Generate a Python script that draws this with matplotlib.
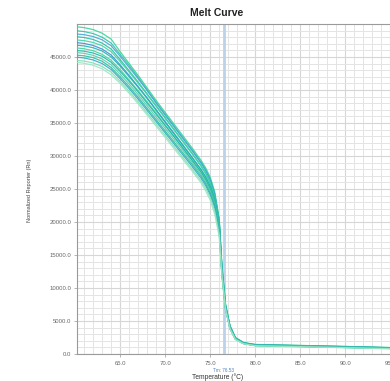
import matplotlib
matplotlib.use("Agg")
import matplotlib.pyplot as plt
from matplotlib.ticker import MultipleLocator, FormatStrFormatter

plt.rcParams['font.family'] = ['Liberation Sans', 'DejaVu Sans']

# temperature points shared by every well (deg C)
temps = [60, 61, 62, 63, 64, 65, 66, 67, 68, 69, 70, 71, 72, 73, 74, 74.5,
         75, 75.5, 76, 76.3, 76.7, 77.2, 77.8, 78.7, 80, 85, 90, 96]

# normalized reporter per well
well_01 = [49600, 49450, 49150, 48600, 47700, 45800, 44000, 42200, 40300, 38400, 36600, 34800, 33000, 31200,
           29300, 28200, 26800, 24600, 20500, 13500, 7600, 4300, 2500, 1750, 1450, 1300, 1150, 950]
well_02 = [49000, 48850, 48550, 48000, 47100, 45400, 43700, 41900, 40000, 38100, 36300, 34500, 32700, 30900,
           29000, 27900, 26500, 24300, 20300, 13300, 7500, 4250, 2450, 1720, 1420, 1280, 1130, 930]
well_03 = [48500, 48380, 48100, 47600, 46700, 45100, 43400, 41700, 39900, 38000, 36200, 34400, 32600, 30800,
           28900, 27800, 26400, 24200, 20200, 13200, 7400, 4200, 2450, 1700, 1400, 1260, 1110, 910]
well_04 = [48100, 47950, 47650, 47100, 46200, 44600, 42900, 41200, 39400, 37600, 35800, 34000, 32200, 30400,
           28500, 27400, 26000, 23900, 20000, 13000, 7300, 4150, 2400, 1680, 1380, 1240, 1090, 900]
well_05 = [47600, 47480, 47200, 46700, 45800, 44300, 42700, 41000, 39300, 37500, 35700, 33900, 32100, 30300,
           28400, 27300, 25900, 23800, 19900, 12900, 7250, 4100, 2400, 1670, 1370, 1230, 1080, 890]
well_06 = [47200, 47050, 46750, 46200, 45300, 43800, 42200, 40500, 38800, 37000, 35200, 33400, 31600, 29800,
           27900, 26800, 25400, 23400, 19600, 12700, 7150, 4050, 2350, 1650, 1350, 1210, 1060, 870]
well_07 = [46800, 46680, 46400, 45900, 45000, 43600, 42000, 40400, 38700, 36900, 35100, 33300, 31500, 29700,
           27900, 26800, 25400, 23400, 19500, 12600, 7100, 4000, 2350, 1640, 1340, 1200, 1050, 860]
well_08 = [46400, 46250, 45950, 45400, 44500, 43100, 41500, 39900, 38200, 36500, 34700, 32900, 31200, 29400,
           27600, 26500, 25100, 23100, 19300, 12500, 7050, 3950, 2300, 1620, 1320, 1180, 1030, 850]
well_09 = [46000, 45880, 45600, 45100, 44200, 42800, 41300, 39700, 38000, 36300, 34600, 32900, 31100, 29300,
           27500, 26400, 25000, 23000, 19200, 12400, 7000, 3950, 2300, 1610, 1310, 1170, 1020, 840]
well_10 = [45700, 45550, 45250, 44700, 43800, 42400, 40900, 39300, 37600, 35900, 34200, 32500, 30800, 29000,
           27200, 26100, 24700, 22800, 19000, 12300, 6950, 3900, 2280, 1600, 1300, 1160, 1010, 830]
well_11 = [45300, 45180, 44900, 44350, 43400, 42000, 40500, 38900, 37200, 35500, 33800, 32100, 30400, 28700,
           26900, 25800, 24400, 22500, 18800, 12200, 6900, 3880, 2260, 1590, 1290, 1150, 1000, 820]
well_12 = [45000, 44850, 44550, 44000, 43100, 41700, 40200, 38600, 36900, 35200, 33500, 31800, 30100, 28400,
           26600, 25500, 24100, 22200, 18600, 12100, 6850, 3850, 2240, 1580, 1280, 1140, 990, 810]
well_13 = [44500, 44380, 44100, 43550, 42700, 41300, 39800, 38200, 36500, 34800, 33100, 31400, 29700, 28000,
           26200, 25100, 23700, 21700, 18200, 12000, 6800, 3820, 2220, 1560, 1260, 1120, 970, 780]
well_14 = [44200, 44050, 43750, 43200, 42300, 41000, 39500, 37900, 36200, 34500, 32800, 31100, 29400, 27700,
           25900, 24700, 23300, 21200, 17800, 11900, 6750, 3800, 2200, 1550, 1250, 1100, 950, 760]

wells = [well_01, well_02, well_03, well_04, well_05, well_06, well_07,
         well_08, well_09, well_10, well_11, well_12, well_13, well_14]
colors = ["#39d49a", "#2fc4a6", "#4aa3d8", "#28bfa0", "#3cd6a4", "#3d8fd4", "#22b5ad",
          "#45d39c", "#1fb8a8", "#5cc9b0", "#2dbf9c", "#34a9c4", "#7fe0b6", "#9ae6c4"]

tm = 76.53

fig = plt.figure(figsize=(3.9, 3.81), dpi=100)
ax = fig.add_axes([77 / 390, 27 / 381, 324 / 390, 330 / 381])

for vals, c in zip(wells, colors):
    ax.plot(temps, vals, color=c, lw=0.9, alpha=0.9, zorder=3)

ax.axvline(tm, color="#bcd2ea", lw=2.0, zorder=2)

ax.set_xlim(60.2, 96.2)
ax.set_ylim(0, 50000)
ax.xaxis.set_major_locator(MultipleLocator(5))
ax.xaxis.set_minor_locator(MultipleLocator(1))
ax.yaxis.set_major_locator(MultipleLocator(5000))
ax.yaxis.set_minor_locator(MultipleLocator(1000))
ax.xaxis.set_major_formatter(FormatStrFormatter("%.1f"))
ax.yaxis.set_major_formatter(FormatStrFormatter("%.1f"))
ax.set_yticks([t * 5000 for t in range(10)])
ax.grid(which="major", color="#d6d6d6", lw=0.8, zorder=0)
ax.grid(which="minor", color="#e4e4e4", lw=0.7, zorder=0)
ax.tick_params(which="both", length=2, width=0.5, color="#999999",
               labelsize=4.3, labelcolor="#666666", pad=2)
ax.tick_params(which="minor", length=0)
ax.tick_params(axis="x", pad=3)
for side in ["left", "bottom", "top"]:
    ax.spines[side].set_color("#9a9a9a")
    ax.spines[side].set_linewidth(0.8)
ax.spines["right"].set_visible(False)

fig.text(217 / 390, 1 - 13 / 381, "Melt Curve", ha="center", va="center",
         fontsize=7.5, fontweight="bold", color="#222222")
fig.text(218 / 390, 1 - 377 / 381, "Temperature (\u00b0C)", ha="center", va="center",
         fontsize=4.8, color="#333333")
fig.text(224 / 390, 1 - 370 / 381, "Tm: %.2f" % tm, ha="center", va="center",
         fontsize=3.3, color="#4a7fc0")
fig.text(30 / 390, 1 - 190 / 381, "Normalized Reporter (Rn)", ha="center", va="center",
         rotation=90, fontsize=4, color="#444444")

fig.savefig("out.png", dpi=100)
